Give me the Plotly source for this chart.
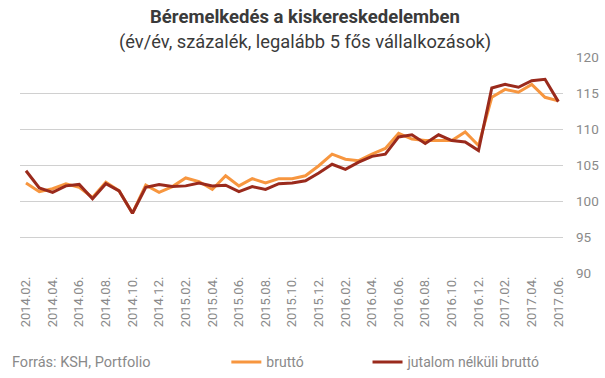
import plotly.graph_objects as go

months = [f"{y}.{m:02d}." for y in range(2014, 2018) for m in range(1, 13)]
months = months[1:months.index("2017.06.") + 1]

brutto = [102.5, 101.3, 101.7, 102.4, 101.9, 100.5, 102.6, 101.4, 98.3, 102.2,
          101.2, 102.0, 103.2, 102.7, 101.6, 103.5, 102.1, 103.1, 102.5, 103.1,
          103.1, 103.5, 104.9, 106.5, 105.8, 105.6, 106.5, 107.3, 109.4, 108.6,
          108.4, 108.4, 108.4, 109.6, 107.7, 114.4, 115.5, 115.1, 116.2, 114.4,
          113.9]
jutalom_nelkul = [104.2, 101.8, 101.2, 102.1, 102.3, 100.3, 102.4, 101.4, 98.3, 101.9,
                  102.3, 102.0, 102.1, 102.5, 102.1, 102.2, 101.3, 102.0, 101.6, 102.4,
                  102.5, 102.8, 103.9, 105.1, 104.4, 105.4, 106.2, 106.5, 108.9, 109.2,
                  108.0, 109.2, 108.4, 108.2, 107.0, 115.7, 116.2, 115.8, 116.7, 116.9,
                  113.8]

y_ticks = [90, 95, 100, 105, 110, 115, 120]

title_text = "Béremelkedés a kiskereskedelemben"
subtitle_text = "(év/év, százalék, legalább 5 fős vállalkozások)"
source_text = "Forrás: KSH, Portfolio"

x_idx = list(range(len(months)))
tick_idx = x_idx[::2]
tick_txt = months[::2]

fig = go.Figure()
fig.add_trace(go.Scatter(x=x_idx, y=brutto, mode="lines", name="bruttó",
                         line=dict(color="#F7963F", width=3), legend="legend",
                         showlegend=True))
fig.add_trace(go.Scatter(x=x_idx, y=jutalom_nelkul, mode="lines", name="jutalom nélküli bruttó",
                         line=dict(color="#9A2A1C", width=3), legend="legend2",
                         showlegend=True))

gray = "#8a8a8a"
leg_common = dict(orientation="h", xanchor="left", y=-0.414, yanchor="middle",
                  font=dict(size=14, color=gray), itemwidth=30, bgcolor="rgba(0,0,0,0)",
                  visible=True)
fig.update_layout(
    width=605, height=378,
    showlegend=True,
    margin=dict(l=20, r=42, t=57, b=105, autoexpand=False),
    paper_bgcolor="white", plot_bgcolor="white",
    font=dict(family="Roboto", size=13, color=gray),
    hovermode=False,
    xaxis=dict(
        range=[-0.45, 40.35], tickmode="array", tickvals=tick_idx, ticktext=tick_txt,
        tickangle=-90, showgrid=False, zeroline=False, showline=False, ticks="",
        tickfont=dict(size=13, color=gray), automargin=False,
    ),
    yaxis=dict(
        side="right", range=[90, 120], tickvals=y_ticks, showgrid=True,
        gridcolor="#d0d0d0", gridwidth=1, zeroline=False, showline=False, ticks="",
        ticklabelstandoff=12, tickfont=dict(size=13.5, color=gray), automargin=False,
    ),
    legend=dict(x=0.380, **leg_common),
    legend2=dict(x=0.640, **leg_common),
    annotations=[
        dict(text="<b>" + title_text + "</b>", xref="paper", yref="paper",
             x=(305 - 20) / 543, y=1 + (57 - 17) / 216, xanchor="center", yanchor="middle",
             showarrow=False, font=dict(family="Roboto", size=18.5, color="#3a3a3a")),
        dict(text=subtitle_text, xref="paper", yref="paper",
             x=(305 - 20) / 543, y=1 + (57 - 42) / 216, xanchor="center", yanchor="middle",
             showarrow=False, font=dict(family="Roboto", size=18.3, color="#3a3a3a")),
        dict(text=source_text, xref="paper", yref="paper",
             x=-0.018, y=-0.414, xanchor="left", yanchor="middle", showarrow=False,
             font=dict(size=14.5, color=gray)),
    ],
)

fig.write_html("out.html", config={"displayModeBar": False},
               post_script="document.body.style.margin='0';")
